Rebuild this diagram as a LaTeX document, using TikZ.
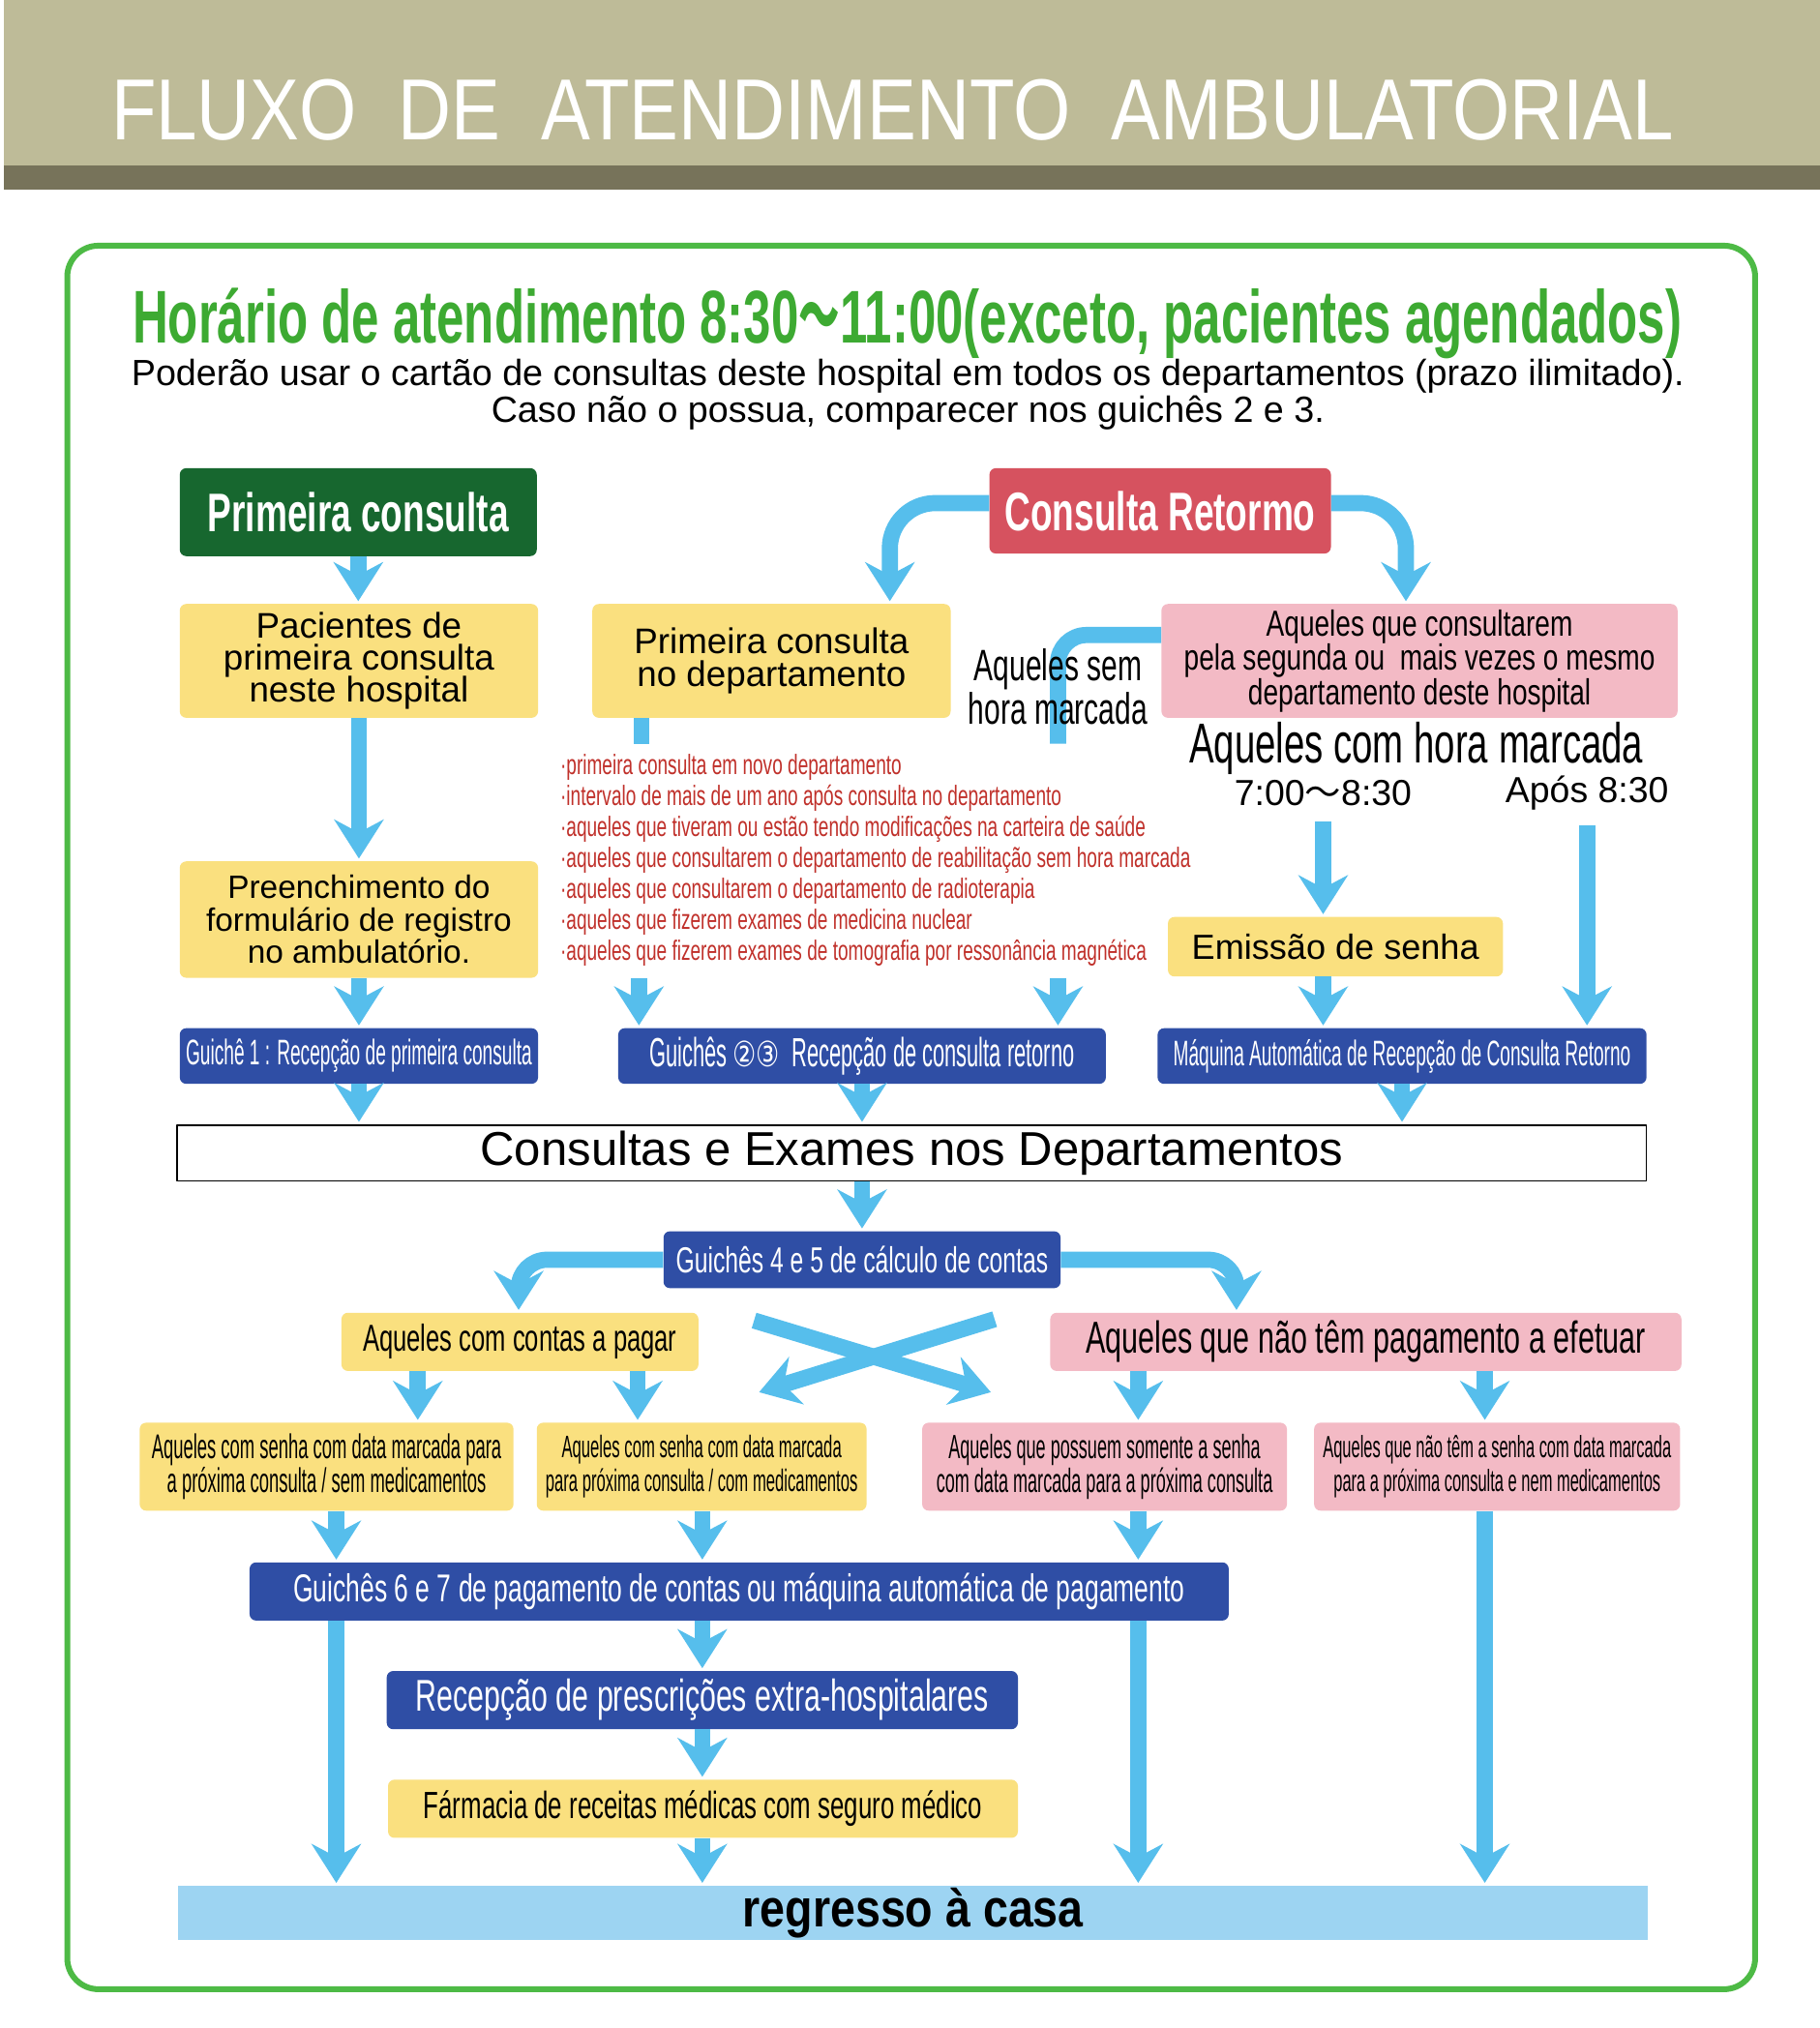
\documentclass[tikz,border=0pt]{standalone}
\usepackage{fontspec}
\usepackage{graphicx}
\usetikzlibrary{arrows.meta}
\setmainfont{Liberation Sans}
\newfontfamily\narrowfont[FakeStretch=0.66]{Liberation Sans}
\newfontfamily\midfont[FakeStretch=0.75]{Liberation Sans}
\newfontfamily\xnarrowfont[FakeStretch=0.52]{Liberation Sans}
\newfontfamily\titlefont[FakeStretch=0.85]{Liberation Sans}
\newfontfamily\symbfont{DejaVu Sans}
\newfontfamily\cjkfont{Noto Sans CJK JP}
\newcommand\setsize[2]{\fontsize{#1bp}{#2bp}\selectfont\lineskiplimit=-100bp\relax}
\definecolor{flowblue}{HTML}{56BEEC}
\definecolor{boxyellow}{HTML}{FAE07F}
\definecolor{boxpink}{HTML}{F3BAC5}
\definecolor{boxblue}{HTML}{2F4EA5}
\definecolor{boxgreen}{HTML}{17672F}
\definecolor{boxred}{HTML}{D6525F}
\definecolor{homeblue}{HTML}{9DD4F2}
\definecolor{framegreen}{HTML}{4DBA45}
\definecolor{headgreen}{HTML}{3DAA32}
\definecolor{listred}{HTML}{C0302A}
\definecolor{bannerkhaki}{HTML}{BEBB98}
\definecolor{bannerdark}{HTML}{77735A}
\begin{document}
\begin{tikzpicture}[>=latex,line join=bevel,
  box/.style={rounded corners=5bp,inner sep=0pt,align=center,draw=none},
  yellowbox/.style={box,fill=boxyellow},
  pinkbox/.style={box,fill=boxpink},
  bluebox/.style={box,fill=boxblue,text=white},
  flowline/.style={draw=flowblue,line width=12.5bp},
  flow/.style={flowline,-{Stealth[length=30bp,width=38bp,inset=10bp]},shorten >=2bp},
  ]
%%
\useasboundingbox (0bp,0bp) rectangle (1407bp,1568bp);
\fill [white] (0bp,0bp) rectangle (1407bp,1568bp);
\fill [bannerkhaki] (3bp,1440bp) rectangle (1407bp,1568bp);
\fill [bannerdark] (3bp,1421bp) rectangle (1407bp,1440bp);
\node (node_titulo) at (690bp,1460bp) [anchor=base,inner sep=0pt,text=white,font=\titlefont\setsize{67}{67}] {FLUXO\ \ DE\ \ ATENDIMENTO\ \ AMBULATORIAL};
\draw [framegreen,line width=4.5bp,rounded corners=24bp] (52bp,30bp) rectangle (1357bp,1378bp);
\node (node_horario) at (701.5bp,1303bp) [anchor=base,inner sep=0pt,text=headgreen,font=\narrowfont\bfseries\setsize{57.8}{57.8}] {Horário de atendimento 8:30\scalebox{0.55}[1]{\cjkfont ～}11:00(exceto, pacientes agendados)};
\node (node_aviso) at (702bp,1263bp) [inner sep=0pt,align=center,font=\setsize{28.2}{28}] {Poderão usar o cartão de consultas deste hospital em todos os departamentos (prazo ilimitado).\\Caso não o possua, comparecer nos guichês 2 e 3.};
%
\node (node_primeira) at (277bp,1172bp) [box,fill=boxgreen,text=white,minimum width=276bp,minimum height=68bp,font=\narrowfont\bfseries\setsize{42}{42}] {Primeira consulta};
\node (node_retorno) at (897bp,1173bp) [box,fill=boxred,text=white,minimum width=264bp,minimum height=66bp,font=\narrowfont\bfseries\setsize{42}{42}] {Consulta Retormo};
\node (node_pacientes) at (277.5bp,1057bp) [yellowbox,minimum width=277bp,minimum height=88bp,font=\setsize{27.5}{25}] {Pacientes de\\primeira consulta\\neste hospital};
\node (node_depto) at (596.5bp,1057bp) [yellowbox,minimum width=277bp,minimum height=88bp,font=\setsize{27.5}{25}] {Primeira consulta\\no departamento};
\node (node_segunda) at (1097.5bp,1057bp) [pinkbox,minimum width=399bp,minimum height=88bp,font=\midfont\setsize{28}{26.5}] {Aqueles que consultarem\\pela segunda ou\ \ mais vezes o mesmo\\departamento deste hospital};
\node (node_comhora) at (1095bp,989bp) [inner sep=0pt,font=\narrowfont\setsize{43.5}{43.5}] {Aqueles com hora marcada};
\node (node_cedo) at (1023bp,955bp) [inner sep=0pt,font=\setsize{28}{28}] {7:00{\cjkfont ～}8:30};
\node (node_apos) at (1227bp,955bp) [inner sep=0pt,font=\setsize{28}{28}] {Após 8:30};
\node (node_lista) at (433bp,985bp) [anchor=north west,inner sep=0pt,align=left,text=listred,font=\narrowfont\setsize{21.6}{24}] {·primeira consulta em novo departamento\\·intervalo de mais de um ano após consulta no departamento\\·aqueles que tiveram ou estão tendo modificações na carteira de saúde\\·aqueles que consultarem o departamento de reabilitação sem hora marcada\\·aqueles que consultarem o departamento de radioterapia\\·aqueles que fizerem exames de medicina nuclear\\·aqueles que fizerem exames de tomografia por ressonância magnética};
\node (node_preench) at (277.5bp,857bp) [yellowbox,minimum width=277bp,minimum height=90bp,font=\setsize{25}{25}] {Preenchimento do\\formulário de registro\\no ambulatório.};
\node (node_senha) at (1032.5bp,836bp) [yellowbox,minimum width=259bp,minimum height=46bp,font=\setsize{27}{27}] {Emissão de senha};
\node (node_g1) at (277.5bp,751.5bp) [bluebox,minimum width=277bp,minimum height=43bp,font=\xnarrowfont\setsize{27.5}{27.5}] {Guichê 1 : Recepção de primeira consulta};
\node (node_g23) at (666.5bp,751.5bp) [bluebox,minimum width=377bp,minimum height=43bp,font=\xnarrowfont\setsize{31.5}{31.5}] {Guichês \scalebox{0.75}[1]{\symbfont\setsize{27}{27}②③}\ \ Recepção de consulta retorno};
\node (node_maquina) at (1084bp,751.5bp) [bluebox,minimum width=378bp,minimum height=43bp,font=\xnarrowfont\setsize{27.5}{27.5}] {Máquina Automática de Recepção de Consulta Retorno};
\node (node_cons) at (705bp,676.5bp) [draw=black,line width=1.2bp,fill=white,inner sep=0pt,minimum width=1136bp,minimum height=43bp,font=\setsize{36.7}{36.7}] {Consultas e Exames nos Departamentos};
\node (node_g45) at (666.5bp,594bp) [bluebox,minimum width=307bp,minimum height=44bp,font=\narrowfont\setsize{28}{28}] {Guichês 4 e 5 de cálculo de contas};
\node (node_pagar) at (402bp,530.5bp) [yellowbox,minimum width=276bp,minimum height=45bp,font=\narrowfont\setsize{29}{29}] {Aqueles com contas a pagar};
\node (node_naopaga) at (1056bp,530.5bp) [pinkbox,minimum width=488bp,minimum height=45bp,font=\narrowfont\setsize{34.6}{34.6}] {Aqueles que não têm pagamento a efetuar};
\node (node_semmed) at (252.5bp,434bp) [yellowbox,minimum width=289bp,minimum height=68bp,font=\xnarrowfont\setsize{26.5}{26}] {Aqueles com senha com data marcada para\\a próxima consulta / sem medicamentos};
\node (node_commed) at (542.5bp,434bp) [yellowbox,minimum width=255bp,minimum height=68bp,font=\xnarrowfont\setsize{24}{26}] {Aqueles com senha com data marcada\\para próxima consulta / com medicamentos};
\node (node_somente) at (854bp,434bp) [pinkbox,minimum width=282bp,minimum height=68bp,font=\xnarrowfont\setsize{26}{26}] {Aqueles que possuem somente a senha\\com data marcada para a próxima consulta};
\node (node_nemmed) at (1157.5bp,434bp) [pinkbox,minimum width=283bp,minimum height=68bp,font=\xnarrowfont\setsize{23.7}{26}] {Aqueles que não têm a senha com data marcada\\para a próxima consulta e nem medicamentos};
\node (node_g67) at (571.5bp,337.5bp) [bluebox,minimum width=757bp,minimum height=45bp,font=\narrowfont\setsize{30}{30}] {Guichês 6 e 7 de pagamento de contas ou máquina automática de pagamento};
\node (node_presc) at (543bp,253.5bp) [bluebox,minimum width=488bp,minimum height=45bp,font=\narrowfont\setsize{34.4}{34.4}] {Recepção de prescrições extra-hospitalares};
\node (node_farm) at (543.5bp,169.5bp) [yellowbox,minimum width=487bp,minimum height=45bp,font=\narrowfont\setsize{29.3}{29.3}] {Fármacia de receitas médicas com seguro médico};
\node (node_casa) at (706bp,89bp) [fill=homeblue,inner sep=0pt,minimum width=1136bp,minimum height=42bp,font=\titlefont\bfseries\setsize{41}{41}] {regresso à casa};
%
\coordinate (col_a) at (323bp,0bp);
\coordinate (col_b) at (493bp,0bp);
\coordinate (col_c) at (543bp,0bp);
\coordinate (col_d) at (880bp,0bp);
\coordinate (col_e) at (1148bp,0bp);
\coordinate (col_f) at (260bp,0bp);
\coordinate (col_g) at (496bp,0bp);
\coordinate (col_h) at (818bp,0bp);
\coordinate (col_j) at (688bp,0bp);
\coordinate (col_k) at (1087bp,0bp);
\coordinate (col_l) at (401bp,0bp);
\coordinate (col_m) at (956bp,0bp);
\coordinate (stub_a) at (496bp,993bp);
\coordinate (stub_b) at (818bp,993bp);
\coordinate (tail_a) at (494bp,812bp);
\coordinate (tail_b) at (818bp,812bp);
\coordinate (cross_a1) at (583bp,547bp);
\coordinate (cross_a2) at (768bp,491bp);
\coordinate (cross_b1) at (769bp,548bp);
\coordinate (cross_b2) at (585bp,491bp);
%
\draw [flow] (node_primeira.south) -- (node_primeira.south |- node_pacientes.north);
\draw [flow] (node_pacientes.south) -- (node_pacientes.south |- node_preench.north);
\draw [flow] (node_preench.south) -- (node_preench.south |- node_g1.north);
\draw [flow] (node_g1.south) -- (node_g1.south |- node_cons.north);
\draw [flow,rounded corners=35bp] ([yshift=6bp]node_retorno.west) -| (col_j |- node_depto.north);
\draw [flow,rounded corners=35bp] ([yshift=6bp]node_retorno.east) -| (col_k |- node_segunda.north);
\draw [flowline] (col_g |- node_depto.south) -- (stub_a);
\draw [flowline,rounded corners=22bp] ([yshift=20bp]node_segunda.west) -| (stub_b);
\draw [flow] (tail_a) -- (tail_a |- node_g23.north);
\draw [flow] (tail_b) -- (tail_b |- node_g23.north);
\draw [flow] ([yshift=-12bp]node_cedo.south) -- (node_cedo.south |- node_senha.north);
\draw [flow] (node_cedo |- node_senha.south) -- (node_cedo |- node_maquina.north);
\draw [flow] ([yshift=-12bp]node_apos.south) -- (node_apos.south |- node_maquina.north);
\draw [flow] (node_g23.south) -- (node_g23.south |- node_cons.north);
\draw [flow] (node_maquina.south) -- (node_maquina.south |- node_cons.north);
\draw [flow] (node_g45.north |- node_cons.south) -- (node_g45.north);
\draw [flow,rounded corners=22bp] (node_g45.west) -| (col_l |- node_pagar.north);
\draw [flow,rounded corners=22bp] (node_g45.east) -| (col_m |- node_naopaga.north);
\draw [flow] (cross_a1) -- (cross_a2);
\draw [flow] (cross_b1) -- (cross_b2);
\draw [flow] (col_a |- node_pagar.south) -- (col_a |- node_semmed.north);
\draw [flow] (col_b |- node_pagar.south) -- (col_b |- node_commed.north);
\draw [flow] (col_d |- node_naopaga.south) -- (col_d |- node_somente.north);
\draw [flow] (col_e |- node_naopaga.south) -- (col_e |- node_nemmed.north);
\draw [flow] (col_f |- node_semmed.south) -- (col_f |- node_g67.north);
\draw [flow] (col_c |- node_commed.south) -- (col_c |- node_g67.north);
\draw [flow] (col_d |- node_somente.south) -- (col_d |- node_g67.north);
\draw [flow] (col_e |- node_nemmed.south) -- (col_e |- node_casa.north);
\draw [flow] (col_f |- node_g67.south) -- (col_f |- node_casa.north);
\draw [flow] (col_c |- node_g67.south) -- (col_c |- node_presc.north);
\draw [flow] (col_d |- node_g67.south) -- (col_d |- node_casa.north);
\draw [flow] (node_presc.south) -- (node_presc.south |- node_farm.north);
\draw [flow] (col_c |- node_farm.south) -- (col_c |- node_casa.north);
%
\node (node_semhora) at (818bp,1037bp) [inner sep=0pt,align=center,font=\narrowfont\setsize{34}{34}] {Aqueles sem\\hora marcada};
%
\end{tikzpicture}
\end{document}
